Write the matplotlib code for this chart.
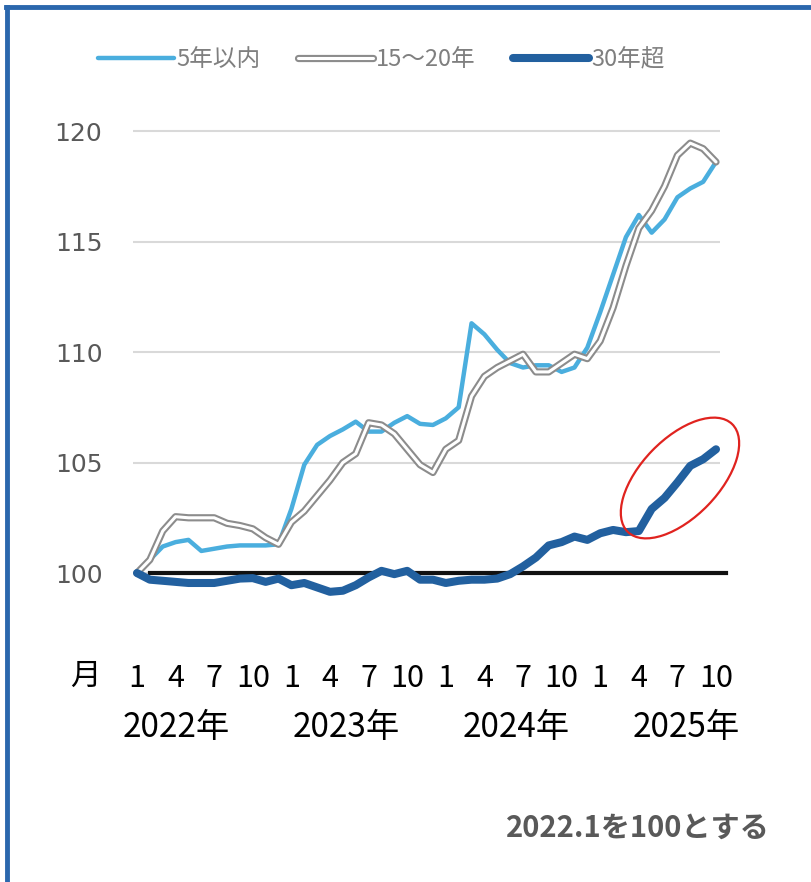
import matplotlib
matplotlib.use("Agg")
import matplotlib.pyplot as plt
import matplotlib.patheffects as pe
from matplotlib.patches import Ellipse
from matplotlib.lines import Line2D
from matplotlib.transforms import ScaledTranslation
import numpy as np

plt.rcParams['font.family'] = ['Noto Sans CJK JP', 'DejaVu Sans']

# 2022.1 ~ 2025.10 月次, 2022.1 = 100
within_5y = [100.0, 100.6, 101.2, 101.4, 101.5, 101.0, 101.1, 101.2, 101.25, 101.25,
             101.25, 101.3, 102.9, 104.9, 105.8, 106.2, 106.5, 106.85, 106.4, 106.4,
             106.8, 107.1, 106.75, 106.7, 107.0, 107.5, 111.3, 110.8, 110.1, 109.5,
             109.3, 109.4, 109.4, 109.1, 109.3, 110.2, 111.8, 113.5, 115.2, 116.2,
             115.4, 116.0, 117.0, 117.4, 117.7, 118.6]
y15_20 = [100.0, 100.6, 101.9, 102.55, 102.5, 102.5, 102.5, 102.25, 102.15, 102.0,
          101.6, 101.3, 102.3, 102.8, 103.5, 104.2, 105.0, 105.4, 106.8, 106.7,
          106.3, 105.6, 104.9, 104.55, 105.6, 106.0, 108.0, 108.9, 109.3, 109.6,
          109.9, 109.1, 109.1, 109.5, 109.9, 109.7, 110.5, 112.0, 113.9, 115.6,
          116.4, 117.5, 118.9, 119.45, 119.2, 118.6]
over_30y = [100.0, 99.7, 99.65, 99.6, 99.55, 99.55, 99.55, 99.65, 99.75, 99.77,
            99.6, 99.75, 99.45, 99.55, 99.35, 99.15, 99.2, 99.45, 99.8, 100.1,
            99.95, 100.1, 99.7, 99.7, 99.55, 99.65, 99.7, 99.7, 99.75, 99.95,
            100.3, 100.7, 101.25, 101.4, 101.65, 101.5, 101.8, 101.95, 101.85, 101.9,
            102.9, 103.4, 104.1, 104.85, 105.15, 105.6]
base = 100
month_labels = ['1', '4', '7', '10']
years = ['2022年', '2023年', '2024年', '2025年']

x = np.arange(len(within_5y))

fig = plt.figure(figsize=(8.11, 8.82), dpi=100)
ax = fig.add_axes([133 / 811, 1 - 606.2 / 882, 587 / 811, 497.3 / 882])

ax.set_xlim(-0.31, len(x) - 1 + 0.31)
ax.set_ylim(98.5, 121)

# 基準線 (100)
ax.plot([1, len(x) - 0.2], [base, base], color='#111111', lw=3, clip_on=False, zorder=2)

ax.plot(x, within_5y, color='#4aaede', lw=3.2, label='5年以内', zorder=3,
        solid_capstyle='round', solid_joinstyle='round')
ax.plot(x, y15_20, color='white', lw=2.2, label='15〜20年', zorder=3,
        solid_capstyle='round', solid_joinstyle='round',
        path_effects=[pe.Stroke(linewidth=5.2, foreground='#8c8c8c'), pe.Normal()])
ax.plot(x, over_30y, color='#22609f', lw=5.8, label='30年超', zorder=4,
        solid_capstyle='round', solid_joinstyle='round')

# 赤丸
ell = Ellipse((0, 0), 1.5, 0.78, angle=46, fill=False, edgecolor='#e0231f', lw=1.6,
              transform=fig.dpi_scale_trans + ScaledTranslation(42.2, 104.3, ax.transData),
              zorder=5, clip_on=False)
ax.add_patch(ell)

ax.set_yticks(range(100, 121, 5))
ax.grid(axis='y', color='#d9d9d9', lw=1.5)
ax.set_axisbelow(True)
ax.tick_params(axis='y', length=0, pad=22, labelsize=18, labelcolor='#595959',
               labelfontfamily='DejaVu Sans')
ax.set_xticks(x[::3])
ax.set_xticklabels(month_labels * 4)
ax.tick_params(axis='x', length=0, pad=41, labelsize=22, labelcolor='black')
for s in ax.spines.values():
    s.set_visible(False)

fig.text(85 / 811, 1 - 676 / 882, '月', fontsize=22, ha='center', va='center')
for k, yr in enumerate(years):
    fig.text((176 + 170 * k) / 811, 1 - 728 / 882, yr, fontsize=24, ha='center', va='center')

fig.text(770 / 811, 1 - 828 / 882, '2022.1を100とする', fontsize=21, fontweight='bold',
         color='#595959', ha='right', va='center')

leg = ax.legend(loc='center left', bbox_to_anchor=(98 / 811, 1 - 60 / 882),
                bbox_transform=fig.transFigure, ncol=3, frameon=False,
                fontsize=17, handlelength=3.2, handletextpad=0.1, columnspacing=1.6,
                borderpad=0, borderaxespad=0)
for t in leg.get_texts():
    t.set_color('#7f7f7f')

# 外枠 (上・左)
fig.add_artist(Line2D([6 / 811, 1], [1 - 7 / 882] * 2, color='#2b67ad', lw=3.5,
                      transform=fig.transFigure))
fig.add_artist(Line2D([7 / 811] * 2, [0, 1 - 7 / 882], color='#2b67ad', lw=3.5,
                      transform=fig.transFigure))

fig.savefig('out.png', dpi=100)
